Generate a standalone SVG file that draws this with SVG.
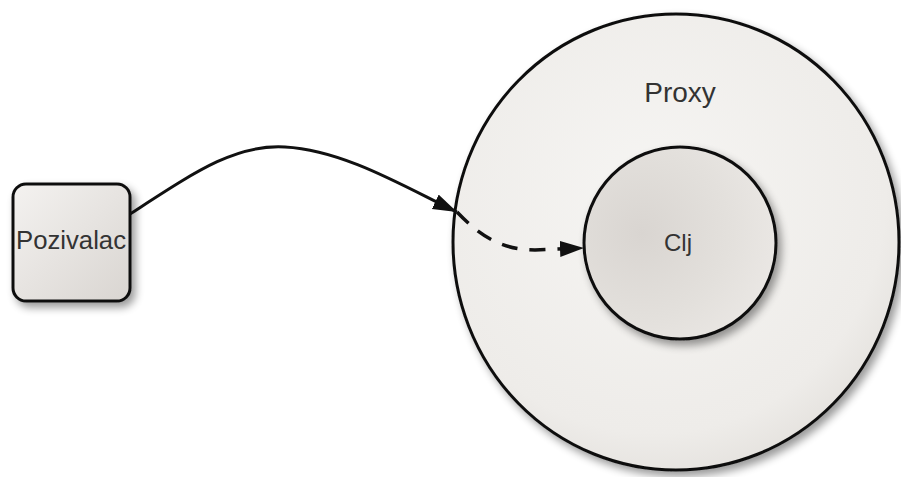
<svg xmlns="http://www.w3.org/2000/svg" width="901" height="477" viewBox="0 0 901 477">
  <defs>
    <style>
      .lbl { font-family: "Liberation Sans", Arial, sans-serif; fill: #333; }
      .edge { fill: none; stroke: #111; stroke-width: 3; }
      .dash { stroke-width: 3.5; stroke-dasharray: 16 12; }
      .shape { stroke: #111; stroke-width: 3; }
    </style>
    <linearGradient id="boxFill" x1="0" y1="0" x2="1" y2="1">
      <stop offset="0" stop-color="#f4f2f0"/>
      <stop offset="1" stop-color="#d9d5d1"/>
    </linearGradient>
    <radialGradient id="outerFill" cx="0.45" cy="0.4" r="0.65">
      <stop offset="0" stop-color="#f6f5f3"/>
      <stop offset="0.8" stop-color="#eeece9"/>
      <stop offset="1" stop-color="#e3e0dc"/>
    </radialGradient>
    <radialGradient id="innerFill" cx="0.3" cy="0.45" r="0.75">
      <stop offset="0" stop-color="#d9d5d1"/>
      <stop offset="0.6" stop-color="#e3e0dc"/>
      <stop offset="1" stop-color="#ebe8e5"/>
    </radialGradient>
    <filter id="shadow" x="-20%" y="-20%" width="150%" height="150%">
      <feGaussianBlur in="SourceAlpha" stdDeviation="4"/>
      <feOffset dx="4" dy="5" result="b"/>
      <feComponentTransfer><feFuncA type="linear" slope="0.4"/></feComponentTransfer>
      <feMerge><feMergeNode/><feMergeNode in="SourceGraphic"/></feMerge>
    </filter>
    <marker id="arrow" markerUnits="userSpaceOnUse" markerWidth="26" markerHeight="18" refX="24" refY="8" orient="auto">
      <path d="M0,0 L24,8 L0,16 Z" fill="#111"/>
    </marker>
  </defs>

  <rect width="901" height="477" fill="#fff"/>

  <g id="proxy">
    <ellipse class="shape" cx="676" cy="242" rx="223" ry="228" fill="url(#outerFill)" filter="url(#shadow)"/>
    <text class="lbl" x="680" y="102" font-size="28" text-anchor="middle">Proxy</text>
  </g>

  <g id="clj">
    <circle class="shape" cx="680" cy="243" r="96" fill="url(#innerFill)" filter="url(#shadow)"/>
    <text class="lbl" x="678" y="251" font-size="24" text-anchor="middle">Clj</text>
  </g>

  <g id="pozivalac">
    <rect class="shape" x="13" y="184" width="117" height="117" rx="13" fill="url(#boxFill)" filter="url(#shadow)"/>
    <text class="lbl" x="71" y="249" font-size="25" text-anchor="middle" textLength="110" lengthAdjust="spacingAndGlyphs">Pozivalac</text>
  </g>

  <g id="connectors">
    <path class="edge" d="M130,214 C195,172 235,144 285,147 C345,150 410,190 457,212" marker-end="url(#arrow)"/>
    <path class="edge dash" d="M457,212 C478,234 500,250 535,250 L584,248" marker-end="url(#arrow)"/>
  </g>
</svg>
